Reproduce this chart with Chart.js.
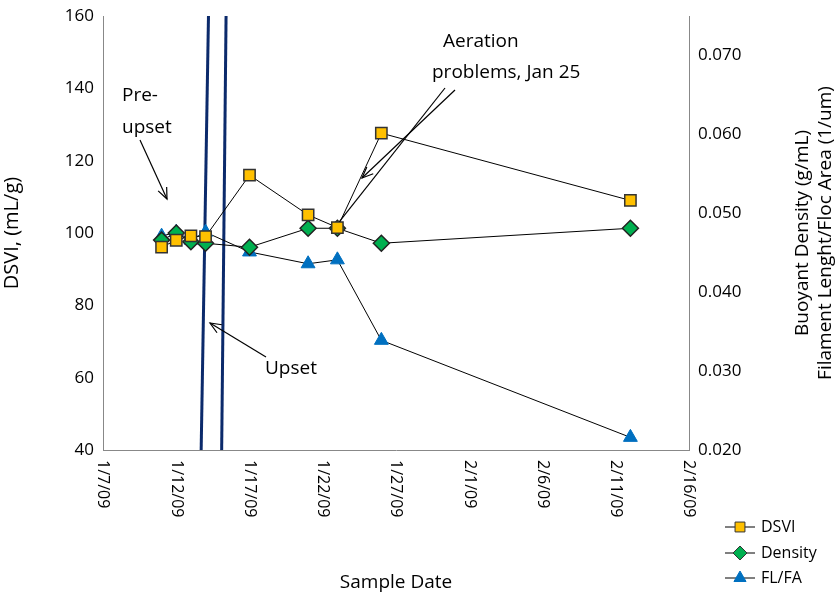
<!DOCTYPE html>
<html><head><meta charset="utf-8">
<script src="https://cdn.jsdelivr.net/npm/chart.js@4"></script>
<style>body{margin:0;background:#fff}#w{width:840px;height:598px}</style>
</head><body><div id="w"><canvas id="c"></canvas></div>
<script>
// day numbers counted from Dec 31, 2008 (1 = 1/1/09)
const sampleDays = [11, 12, 13, 14, 17, 21, 23, 26, 43];
const dsvi = [96.1, 98, 99.2, 99, 116, 105, 101.5, 127.6, 109];
const density = [0.0466, 0.0475, 0.0464, 0.0462, 0.0457, 0.0481, 0.0481, 0.0462, 0.0481];
const flfa = [0.0471, 0.0476, 0.0466, 0.0476, 0.0451, 0.0436, 0.0441, 0.0339, 0.0216];
const upsetLine1 = [{x:13.7,y:40},{x:14.2,y:160}];
const upsetLine2 = [{x:15.1,y:40},{x:15.4,y:160}];
const xTicks = [7,12,17,22,27,32,37,42,47];
const legendLabels = ['DSVI','Density','FL/FA'];
const rightTitle = ['Buoyant Density (g/mL)','Filament Lenght/Floc Area (1/um)'];

function dayLabel(d){const dt=new Date(2009,0,d);return (dt.getMonth()+1)+'/'+dt.getDate()+'/09';}
const F='"Open Sans", sans-serif';
const pts=(arr)=>sampleDays.map((d,i)=>({x:d,y:arr[i]}));

function arrow(ctx,x1,y1,x2,y2,head){
  ctx.beginPath();ctx.moveTo(x1,y1);ctx.lineTo(x2,y2);ctx.stroke();
  if(head){const a=Math.atan2(y2-y1,x2-x1),L=12;
    ctx.beginPath();ctx.moveTo(x2-L*Math.cos(a-0.4),y2-L*Math.sin(a-0.4));ctx.lineTo(x2,y2);
    ctx.lineTo(x2-L*Math.cos(a+0.4),y2-L*Math.sin(a+0.4));ctx.stroke();}
}
const deco={id:'deco',afterDraw(ch){
  const c=ch.ctx,x=ch.scales.x,y=ch.scales.y,a=ch.chartArea;
  c.save();c.fillStyle='#000';c.font='16px '+F;
  xTicks.forEach(t=>{c.save();c.translate(x.getPixelForValue(t),a.bottom+10);c.rotate(Math.PI/2);
    c.textAlign='left';c.textBaseline='middle';c.fillText(dayLabel(t),0,0);c.restore();});
  // right axis title
  c.save();c.translate(0,(a.top+a.bottom)/2);c.rotate(-Math.PI/2);c.font='19px '+F;c.textAlign='center';c.textBaseline='middle';
  c.fillText(rightTitle[0],0,803);c.fillText(rightTitle[1],0,826);c.restore();
  c.font='19px '+F;c.textAlign='left';c.textBaseline='alphabetic';
  c.fillText('Pre-',122,101);c.fillText('upset',122,133);
  c.fillText('Aeration',443,47);c.fillText('problems, Jan 25',432,78);
  c.fillText('Upset',265,374);
  c.strokeStyle='#000';c.lineWidth=1.2;
  const P=(d,v)=>[x.getPixelForValue(d),y.getPixelForValue(v)];
  arrow(c,140,140,167,199,true);
  arrow(c,445,88,P(23,101.5)[0]+2,P(23,101.5)[1]-6,false);
  arrow(c,455,90,362,178,true);
  arrow(c,266,357,210,323,true);
  const ly=[527,553,578],st=['rect','rectRot','triangle'],col=['#FFC000','#00B050','#0070C0'];
  c.font='16px '+F;c.textBaseline='middle';
  ly.forEach((yy,i)=>{c.strokeStyle='#000';c.lineWidth=1;c.beginPath();c.moveTo(725,yy);c.lineTo(755,yy);c.stroke();
    c.fillStyle=col[i];c.strokeStyle=i==2?col[i]:'#333';
    Chart.helpers.drawPoint(c,{pointStyle:st[i],radius:7,borderWidth:1},740,yy);
    c.fillStyle='#000';c.fillText(legendLabels[i],761,yy);});
  c.restore();
}};
new Chart(document.getElementById('c'),{
  type:'scatter',
  data:{datasets:[
    {label:'DSVI',data:pts(dsvi),yAxisID:'y',showLine:true,borderColor:'#000',borderWidth:1,pointStyle:'rect',pointRadius:8,backgroundColor:'#FFC000',pointBorderColor:'#333',pointBorderWidth:1.5},
    {label:'Density',data:pts(density),yAxisID:'y2',showLine:true,borderColor:'#000',borderWidth:1,pointStyle:'rectRot',pointRadius:8,backgroundColor:'#00B050',pointBorderColor:'#222',pointBorderWidth:1.5},
    {label:'FL/FA',data:pts(flfa),yAxisID:'y2',showLine:true,borderColor:'#000',borderWidth:1,pointStyle:'triangle',pointRadius:8,backgroundColor:'#0070C0',pointBorderColor:'#0070C0',pointBorderWidth:1},
    {data:upsetLine1,yAxisID:'y',showLine:true,borderColor:'#0B2A6B',borderWidth:3,pointRadius:0},
    {data:upsetLine2,yAxisID:'y',showLine:true,borderColor:'#0B2A6B',borderWidth:3,pointRadius:0}
  ]},
  options:{responsive:true,maintainAspectRatio:false,animation:false,
    layout:{padding:{top:16,bottom:0}},
    plugins:{legend:{display:false},tooltip:{enabled:false}},
    scales:{
      x:{type:'linear',min:7,max:47,afterBuildTicks:s=>{s.ticks=xTicks.map(v=>({value:v}));},
        grid:{display:false,drawTicks:true,tickLength:6,color:'#888'},border:{color:'#888'},
        ticks:{display:false},afterFit:s=>{s.height=148;},
        title:{display:true,text:'Sample Date',font:{family:F,size:19},color:'#000',padding:{top:0,bottom:4}}},
      y:{position:'left',min:40,max:160,ticks:{stepSize:20,font:{family:F,size:17},color:'#000'},
        grid:{display:false,tickLength:6,color:'#888'},border:{color:'#888'},afterFit:s=>{s.width=103;},
        title:{display:true,text:'DSVI, (mL/g)',font:{family:F,size:20},color:'#000',padding:0}},
      y2:{position:'right',min:0.020,max:0.075,afterBuildTicks:s=>{s.ticks=[0.02,0.03,0.04,0.05,0.06,0.07].map(v=>({value:v}));},
        ticks:{callback:v=>v.toFixed(3),font:{family:F,size:17},color:'#000'},
        grid:{display:false,tickLength:6,color:'#888'},border:{color:'#888'},afterFit:s=>{s.width=151;},
        title:{display:false}}
    }}
  ,plugins:[deco]});
</script></body></html>
